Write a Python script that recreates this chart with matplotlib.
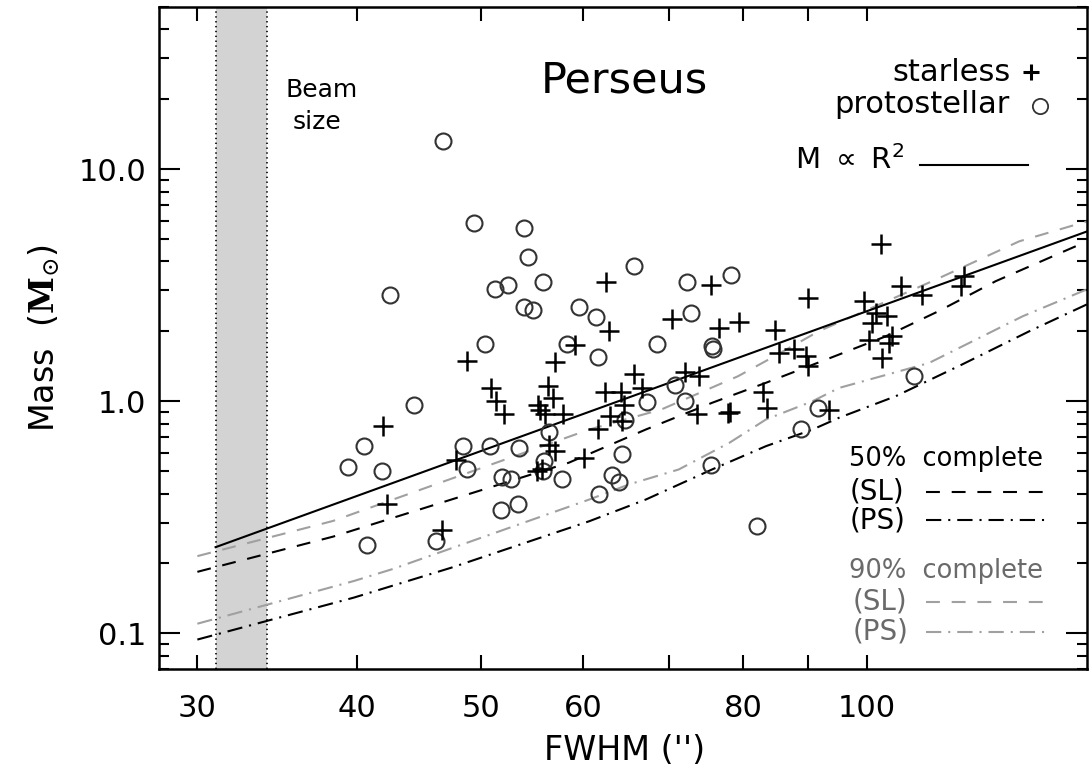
import matplotlib
matplotlib.use("Agg")
import matplotlib.pyplot as plt
from matplotlib.ticker import FixedLocator, LogLocator, NullFormatter, NullLocator

# Perseus cores: FWHM (arcsec) vs mass (Msun)
starless_fwhm = [62.5, 75.6, 89.9, 70.4, 76.7, 79.4, 84.8, 62.9, 102.6, 106.4,
                 110.5, 99.5, 119.1, 118.4, 101.6, 103.7, 101.0, 104.7, 100.4, 104.1,
                 102.8, 59.2, 48.7, 57.1, 50.9, 56.4, 51.3, 56.9, 52.1, 55.4,
                 55.6, 56.1, 57.9, 41.9, 56.5, 57.1, 47.8, 60.1, 55.3, 55.8,
                 42.2, 46.6, 85.4, 87.7, 89.6, 89.9, 65.8, 72.1, 73.9, 62.4,
                 64.3, 66.7, 64.6, 63.0, 61.7, 64.4, 73.7, 77.9, 78.2, 82.9,
                 83.6, 93.4]
starless_mass = [3.27, 3.16, 2.77, 2.25, 2.07, 2.20, 2.02, 2.00, 4.73, 3.13,
                 2.88, 2.70, 3.45, 3.13, 2.40, 2.32, 2.18, 1.90, 1.84, 1.78,
                 1.54, 1.74, 1.49, 1.48, 1.14, 1.16, 1.00, 1.03, 0.88, 0.96,
                 0.92, 0.88, 0.88, 0.78, 0.65, 0.61, 0.56, 0.57, 0.50, 0.51,
                 0.36, 0.28, 1.62, 1.67, 1.56, 1.42, 1.31, 1.33, 1.28, 1.09,
                 1.10, 1.14, 0.96, 0.86, 0.76, 0.82, 0.88, 0.89, 0.90, 1.10,
                 0.93, 0.92]

proto_fwhm = [46.7, 49.3, 54.0, 54.4, 42.4, 51.2, 52.4, 55.9, 54.0, 54.9,
              59.6, 65.8, 72.4, 78.3, 61.4, 72.9, 50.3, 58.3, 44.3, 40.5,
              39.3, 41.8, 48.4, 50.8, 53.5, 48.7, 51.9, 52.7, 56.5, 56.0,
              55.9, 57.8, 51.8, 53.4, 40.7, 46.1, 68.6, 75.7, 75.8, 61.7,
              70.8, 67.3, 72.1, 64.7, 64.4, 63.2, 64.0, 61.8, 75.5, 88.8,
              91.6, 82.1, 108.8]
proto_mass = [13.2, 5.86, 5.58, 4.17, 2.88, 3.03, 3.18, 3.27, 2.55, 2.48,
              2.55, 3.84, 3.27, 3.51, 2.31, 2.40, 1.77, 1.77, 0.96, 0.64,
              0.52, 0.50, 0.64, 0.64, 0.63, 0.51, 0.47, 0.46, 0.74, 0.55,
              0.50, 0.46, 0.34, 0.36, 0.24, 0.25, 1.77, 1.72, 1.68, 1.55,
              1.17, 0.99, 1.00, 0.83, 0.59, 0.48, 0.45, 0.40, 0.53, 0.76,
              0.93, 0.29, 1.28]

# M ~ R^2 reference line (end points)
r2_fwhm = [31.0, 148.5]
r2_mass = [0.235, 5.38]

# completeness curves
sl50_fwhm = [30.0, 38.3, 58.5, 67.2, 75.7, 83.4, 92.9, 103.4, 113.9, 126.1, 145.6, 148.5]
sl50_mass = [0.184, 0.261, 0.543, 0.755, 0.984, 1.20, 1.51, 1.90, 2.45, 3.29, 4.65, 4.82]
ps50_fwhm = [30.0, 39.75, 47.4, 60.7, 67.2, 75.7, 83.4, 90.7, 95.1, 105.3, 118.7, 133.9, 148.5]
ps50_mass = [0.094, 0.1425, 0.192, 0.304, 0.377, 0.508, 0.640, 0.755, 0.848, 1.05, 1.44, 2.00, 2.61]
sl90_fwhm = [30.0, 38.3, 60.7, 69.1, 79.3, 83.4, 91.7, 113.2, 131.5, 145.6, 148.5]
sl90_mass = [0.215, 0.305, 0.755, 0.921, 1.28, 1.49, 2.0, 3.34, 4.88, 5.76, 5.94]
ps90_fwhm = [30.0, 39.75, 42.6, 60.7, 65.2, 71.3, 78.1, 83.4, 90.7, 95.1, 111.8, 132.3, 148.5]
ps90_mass = [0.110, 0.168, 0.189, 0.377, 0.438, 0.508, 0.662, 0.834, 1.0, 1.14, 1.46, 2.32, 3.03]

beam_lo, beam_hi = 31.0, 34.0

plt.rcParams["font.family"] = "DejaVu Sans"
plt.rcParams["lines.scale_dashes"] = False

DASH = (0, (10, 8.5))
DASHDOT = (0, (11, 5, 1.5, 5))
GREY = "#a0a0a0"
GREYTXT = "#6a6a6a"

fig = plt.figure(figsize=(10.89, 7.74), dpi=100)
ax = fig.add_axes([0.146, 0.1353, 0.852, 0.856])
ax.set_xscale("log")
ax.set_yscale("log")
ax.set_xlim(28, 148.5)
ax.set_ylim(0.07, 50)

# beam size band
ax.axvspan(beam_lo, beam_hi, color="#d3d3d3", lw=0, zorder=0)
ax.axvline(beam_lo, color="k", ls=(0, (1, 2.5)), lw=1.2, zorder=1)
ax.axvline(beam_hi, color="k", ls=(0, (1, 2.5)), lw=1.2, zorder=1)

ax.plot(sl90_fwhm, sl90_mass, color=GREY, ls=DASH, lw=1.5)
ax.plot(ps90_fwhm, ps90_mass, color=GREY, ls=DASHDOT, lw=1.5)
ax.plot(sl50_fwhm, sl50_mass, color="k", ls=DASH, lw=1.5)
ax.plot(ps50_fwhm, ps50_mass, color="k", ls=DASHDOT, lw=1.5)
ax.plot(r2_fwhm, r2_mass, color="k", lw=1.5)

ax.plot(proto_fwhm, proto_mass, ls="none", marker="o", ms=11.5, mfc="none",
        mec="#333333", mew=1.5)
ax.plot(starless_fwhm, starless_mass, ls="none", marker="+", ms=14, mec="k", mew=1.8)

# ticks, IDL style
ax.xaxis.set_major_locator(FixedLocator([30, 40, 50, 60, 70, 80, 90, 100]))
ax.set_xticklabels(["30", "40", "50", "60", "", "80", "", "100"])
ax.xaxis.set_minor_locator(NullLocator())
ax.yaxis.set_major_locator(FixedLocator([0.1, 1, 10]))
ax.set_yticklabels(["0.1", "1.0", "10.0"])
ax.yaxis.set_minor_locator(LogLocator(subs=range(2, 10)))
ax.yaxis.set_minor_formatter(NullFormatter())
ax.tick_params(which="both", direction="in", top=True, right=True, width=1.5,
               labelsize=22, colors="k")
ax.tick_params(axis="x", which="major", length=10, pad=18)
ax.tick_params(axis="y", which="major", length=15, pad=9)
ax.tick_params(axis="y", which="minor", length=7.5)
for s in ax.spines.values():
    s.set_linewidth(1.8)

ax.set_xlabel("FWHM ('')", fontsize=24)
ax.xaxis.set_label_coords(0.502, -0.098)
ax.set_ylabel(r"Mass  ($\mathbf{M}_{\odot}$)", fontsize=24)
ax.yaxis.label.set_math_fontfamily("dejavuserif")
ax.yaxis.set_label_coords(-0.105, 0.5)

# annotations
ax.text(0.502, 0.889, "Perseus", transform=ax.transAxes, fontsize=31,
        ha="center", va="center")
ax.text(0.136, 0.874, "Beam", transform=ax.transAxes, fontsize=18, va="center")
ax.text(0.144, 0.826, "size", transform=ax.transAxes, fontsize=18, va="center")

ax.text(0.918, 0.901, "starless", transform=ax.transAxes, fontsize=22,
        ha="right", va="center")
ax.plot([0.940], [0.902], transform=ax.transAxes, marker="+", ms=12, mec="k", mew=2.2)
ax.text(0.917, 0.852, "protostellar", transform=ax.transAxes, fontsize=22,
        ha="right", va="center")
ax.plot([0.949], [0.850], transform=ax.transAxes, marker="o", ms=11, mfc="none",
        mec="#333333", mew=1.3)
ax.text(0.685, 0.768, r"M $\propto$ R$^2$", transform=ax.transAxes, fontsize=21,
        va="center")
ax.plot([0.820, 0.937], [0.761, 0.761], transform=ax.transAxes, color="k", lw=1.5)

ax.text(0.9526, 0.317, "50%  complete", transform=ax.transAxes, fontsize=18.5,
        ha="right", va="center")
ax.text(0.7446, 0.268, "(SL)", transform=ax.transAxes, fontsize=20, va="center")
ax.plot([0.827, 0.957], [0.268, 0.268], transform=ax.transAxes, color="k", ls=DASH, lw=1.5)
ax.text(0.7446, 0.2253, "(PS)", transform=ax.transAxes, fontsize=20, va="center")
ax.plot([0.827, 0.957], [0.2253, 0.2253], transform=ax.transAxes, color="k", ls=DASHDOT, lw=1.5)

ax.text(0.9526, 0.1484, "90%  complete", transform=ax.transAxes, fontsize=18.5,
        ha="right", va="center", color=GREYTXT)
ax.text(0.748, 0.102, "(SL)", transform=ax.transAxes, fontsize=20, va="center",
        color=GREYTXT)
ax.plot([0.827, 0.957], [0.102, 0.102], transform=ax.transAxes, color=GREY, ls=DASH, lw=1.5)
ax.text(0.748, 0.0567, "(PS)", transform=ax.transAxes, fontsize=20, va="center",
        color=GREYTXT)
ax.plot([0.827, 0.957], [0.0567, 0.0567], transform=ax.transAxes, color=GREY, ls=DASHDOT, lw=1.5)

fig.savefig("out.png", dpi=100)
